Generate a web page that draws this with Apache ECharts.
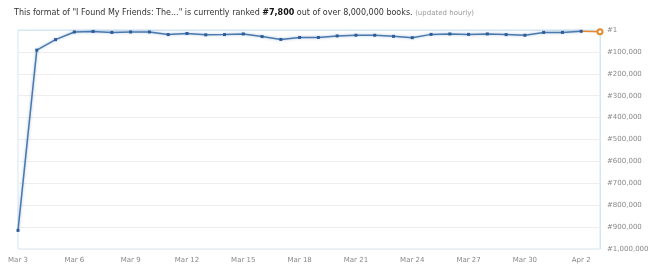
<!DOCTYPE html>
<html><head><meta charset="utf-8">
<script src="https://cdn.jsdelivr.net/npm/echarts@6/dist/echarts.min.js"></script>
<style>html,body{margin:0;padding:0;background:#fff}#c{width:660px;height:276px}</style>
</head><body><div id="c"></div>
<script>
var days = ['Mar 3','Mar 4','Mar 5','Mar 6','Mar 7','Mar 8','Mar 9','Mar 10','Mar 11','Mar 12','Mar 13','Mar 14','Mar 15','Mar 16','Mar 17','Mar 18','Mar 19','Mar 20','Mar 21','Mar 22','Mar 23','Mar 24','Mar 25','Mar 26','Mar 27','Mar 28','Mar 29','Mar 30','Mar 31','Apr 1','Apr 2','Apr 3'];
var ranks = [915000,92000,44000,9000,6500,11000,9000,9000,21000,16000,22000,21000,18000,30000,43000,34000,34000,27000,24000,24000,29000,35000,20000,18000,20000,18000,21000,24000,11000,11000,6000];
var currentIdx = [30,31];
var currentVals = [6000,7800];
var yTicks = [0,100000,200000,300000,400000,500000,600000,700000,800000,900000,1000000];

var chart = echarts.init(document.getElementById('c'));
var font = 'DejaVu Sans, Verdana, sans-serif';
chart.setOption({
  animation:false,
  title:{
    left:9, top:4,
    text:'{a|This format of "I Found My Friends: The..." is currently ranked }{b|#7,800}{a| out of over 8,000,000 books. }{c|(updated hourly)}',
    textStyle:{fontWeight:'normal',rich:{
      a:{fontSize:8,color:'#333',fontWeight:'normal',fontFamily:font},
      b:{fontSize:8,color:'#111',fontWeight:'bold',fontFamily:font},
      c:{fontSize:7,color:'#999',fontWeight:'normal',fontFamily:font}
    }}
  },
  grid:{left:18,right:60,top:30,bottom:27,show:true,borderColor:'#d3e6f4',borderWidth:1},
  xAxis:{
    type:'category', data:days, boundaryGap:false,
    axisLine:{lineStyle:{color:'#d3e6f4'}},
    axisTick:{show:false},
    axisLabel:{interval:2,color:'#888',fontSize:7,fontFamily:font,margin:8},
    splitLine:{show:false}
  },
  yAxis:{
    type:'value', position:'right', inverse:true, min:0, max:1000000, interval:100000,
    axisLine:{show:true,lineStyle:{color:'#d3e6f4'}},
    axisTick:{show:false},
    axisLabel:{color:'#888',fontSize:7,fontFamily:font,margin:7,
      formatter:function(v){return v===0?'#1':'#'+v.toLocaleString('en-US');}},
    splitLine:{lineStyle:{color:'#eeeeee'}}
  },
  series:[
    {type:'line', data:ranks, symbol:'rect', symbolSize:3, showSymbol:true, clip:false,
     itemStyle:{color:'#2a5d99'},
     lineStyle:{color:'#4a79ad',width:1.5,shadowColor:'rgba(70,120,180,0.45)',shadowBlur:3}},
    {type:'line', z:3, clip:false,
     data:currentIdx.map(function(x,i){return {value:[x,currentVals[i]],symbol:i===currentIdx.length-1?'emptyCircle':'none'};}),
     symbolSize:5, showSymbol:true,
     itemStyle:{color:'#e8892a',borderWidth:1},
     lineStyle:{color:'#e8892a',width:1.5}}
  ]
});
</script></body></html>
